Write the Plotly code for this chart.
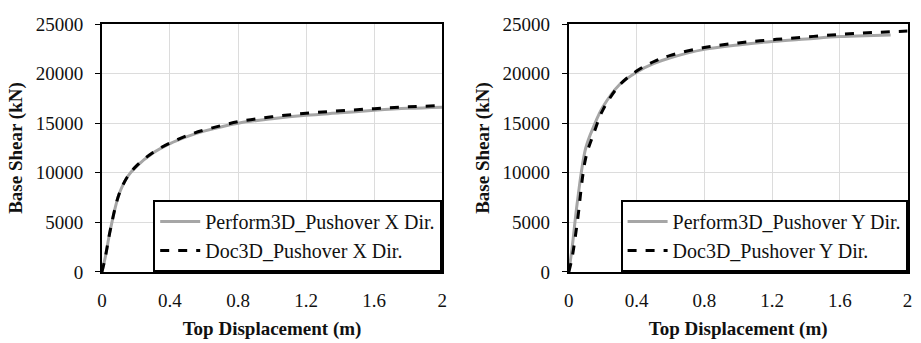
import plotly.graph_objects as go

# Left: X direction
x_perf_x = [0, 0.02, 0.05, 0.1, 0.15, 0.2, 0.3, 0.4, 0.5, 0.6, 0.8, 1.0, 1.2, 1.4, 1.6, 1.8, 2.0]
y_perf_x = [0, 1500, 4300, 7800, 9600, 10600, 12000, 12950, 13650, 14200, 15000, 15450, 15800, 16050, 16300, 16500, 16620]
x_doc_x = [0, 0.02, 0.05, 0.1, 0.15, 0.2, 0.3, 0.4, 0.5, 0.6, 0.8, 1.0, 1.2, 1.4, 1.6, 1.8, 2.0]
y_doc_x = [0, 1500, 4300, 7800, 9600, 10650, 12050, 13000, 13750, 14300, 15150, 15650, 16000, 16250, 16470, 16650, 16780]

# Right: Y direction
x_perf_y = [0, 0.02, 0.05, 0.1, 0.15, 0.2, 0.3, 0.4, 0.5, 0.6, 0.8, 1.0, 1.2, 1.4, 1.6, 1.8, 1.9]
y_perf_y = [0, 2500, 7000, 12500, 14800, 16600, 18900, 20150, 21000, 21600, 22450, 22900, 23250, 23500, 23740, 23850, 23900]
x_doc_y = [0, 0.02, 0.05, 0.1, 0.15, 0.2, 0.3, 0.4, 0.5, 0.6, 0.8, 1.0, 1.2, 1.4, 1.6, 1.8, 2.0]
y_doc_y = [0, 1500, 5000, 11500, 14100, 16300, 18850, 20260, 21200, 21850, 22630, 23100, 23420, 23700, 23960, 24150, 24300]

x_ticks = [0, 0.4, 0.8, 1.2, 1.6, 2]
x_tick_text = ["0", "0.4", "0.8", "1.2", "1.6", "2"]
y_ticks = [0, 5000, 10000, 15000, 20000, 25000]
y_tick_text = ["0", "5000", "10000", "15000", "20000", "25000"]

names_x = ["Perform3D_Pushover X Dir.", "Doc3D_Pushover X Dir."]
names_y = ["Perform3D_Pushover Y Dir.", "Doc3D_Pushover Y Dir."]

GREY = "#a6a6a6"
FONT = "Liberation Serif"

fig = go.Figure()
fig.add_trace(go.Scatter(x=x_perf_x, y=y_perf_x, mode="lines", name=names_x[0],
                         line=dict(color=GREY, width=3, shape="spline"), xaxis="x", yaxis="y", legend="legend"))
fig.add_trace(go.Scatter(x=x_doc_x, y=y_doc_x, mode="lines", name=names_x[1],
                         line=dict(color="black", width=3, dash="dash", shape="spline"), xaxis="x", yaxis="y", legend="legend"))
fig.add_trace(go.Scatter(x=x_perf_y, y=y_perf_y, mode="lines", name=names_y[0],
                         line=dict(color=GREY, width=3, shape="spline"), xaxis="x2", yaxis="y2", legend="legend2"))
fig.add_trace(go.Scatter(x=x_doc_y, y=y_doc_y, mode="lines", name=names_y[1],
                         line=dict(color="black", width=3, dash="dash", shape="spline"), xaxis="x2", yaxis="y2", legend="legend2"))

ydom = [64 / 343, 328 / 343]
xdom1 = [98 / 921, 442 / 921]
xdom2 = [570 / 921, 912.5 / 921]

def xaxis(dom, anchor):
    return dict(domain=dom, anchor=anchor, range=[0, 2], tickvals=x_ticks, ticktext=x_tick_text,
                showgrid=True, gridcolor="#dcdcdc", gridwidth=1, zeroline=False,
                showline=True, linecolor="black", linewidth=2, mirror=True, ticks="",
                ticklabelstandoff=10,
                tickfont=dict(family=FONT, size=19, color="#111"),
                title=dict(text="<b>Top Displacement (m)</b>", font=dict(family=FONT, size=19, color="#111"), standoff=12))

def yaxis(dom, anchor):
    return dict(domain=dom, anchor=anchor, range=[0, 25000], tickvals=y_ticks, ticktext=y_tick_text,
                showgrid=True, gridcolor="#dcdcdc", gridwidth=1, zeroline=False,
                showline=True, linecolor="black", linewidth=2, mirror=True,
                ticks="outside", ticklen=5, tickcolor="black", tickwidth=1,
                ticklabelstandoff=8,
                tickfont=dict(family=FONT, size=19, color="#111"),
                title=dict(text="<b>Base Shear (kN)</b>", font=dict(family=FONT, size=19, color="#111"), standoff=8))

leg_common = dict(bgcolor="white", bordercolor="black", borderwidth=2,
                  font=dict(family=FONT, size=20, color="#111"),
                  yanchor="bottom", xanchor="right", itemwidth=40, tracegroupgap=0)

fig.update_layout(
    width=921, height=343,
    margin=dict(l=0, r=0, t=0, b=0),
    paper_bgcolor="white", plot_bgcolor="white",
    font=dict(family=FONT),
    xaxis=xaxis(xdom1, "y"), yaxis=yaxis(ydom, "x"),
    xaxis2=xaxis(xdom2, "y2"), yaxis2=yaxis(ydom, "x2"),
    legend=dict(x=xdom1[1], y=ydom[0], **leg_common),
    legend2=dict(x=xdom2[1], y=ydom[0], **leg_common),
)

fig.write_html("out.html")
